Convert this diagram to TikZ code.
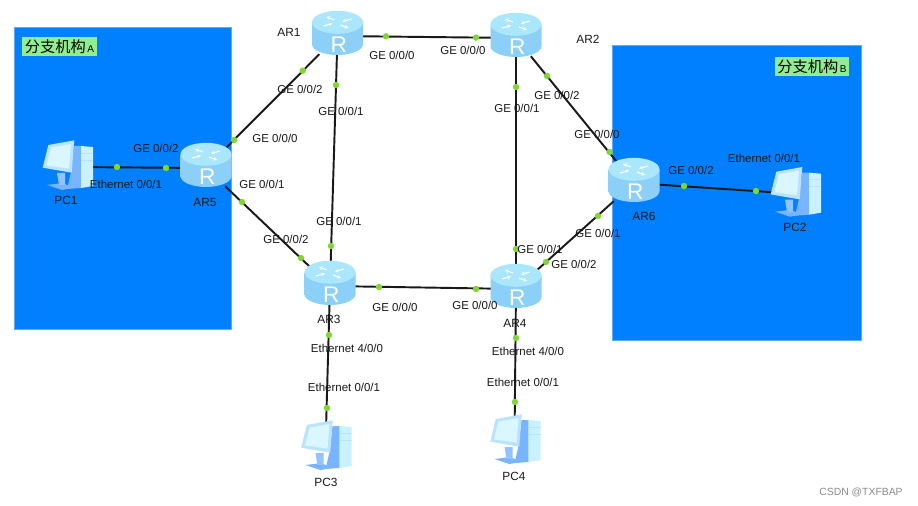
\documentclass[tikz,border=0pt]{standalone}
\usepackage{fontspec}
\setmainfont{Liberation Sans}
\newfontfamily\cjkfont{Noto Sans CJK SC}
\usepackage{xcolor}
\usetikzlibrary{arrows.meta}
\definecolor{branchblue}{RGB}{0,128,255}
\definecolor{branchedge}{RGB}{90,170,255}
\definecolor{tagback}{RGB}{144,238,144}
\definecolor{portgreen}{RGB}{130,214,50}
\definecolor{routertop}{RGB}{170,230,252}
\definecolor{routerdark}{RGB}{140,208,248}
\definecolor{routerlight}{RGB}{185,238,255}
\definecolor{pcscreen}{RGB}{218,246,255}
\definecolor{pcframe}{RGB}{185,228,255}
\definecolor{pcside}{RGB}{120,180,255}
\definecolor{pcfront}{RGB}{200,242,255}
\tikzset{
    branchbox/.style={fill=branchblue, draw=branchedge, line width=0.6pt},
    branchtag/.style={fill=tagback, inner sep=0pt, minimum height=14.2pt, text=black, font=\fontsize{11.4}{12}\selectfont\cjkfont},
    routerport/.style={minimum width=40pt*0.75, minimum height=36pt*0.75, inner sep=0pt},
    pcport/.style={minimum width=46pt*0.75, minimum height=44pt*0.75, inner sep=0pt},
    link/.style={draw=black!90, line width=1.45pt},
    portdot/.style={circle, fill=portgreen, minimum size=4.8pt, inner sep=0pt},
    portlabel/.style={inner sep=0pt, text=black!90, font=\fontsize{8.6}{10}\selectfont},
    devlabel/.style={inner sep=0pt, text=black!90, font=\fontsize{8.9}{10}\selectfont},
    routerarrow/.style={draw=white, line width=0.8pt, -{Stealth[length=2.8pt,width=3pt]}},
    pics/routericon/.style={code={
        \path[left color=routerdark, middle color=routerlight, right color=routerdark]
            (-25.5,-13.7) -- (-25.5,8) .. controls (-25.5,15) and (-12,19) .. (0,19)
            .. controls (12,19) and (25.5,15) .. (25.5,8) -- (25.5,-13.7) -- cycle;
        \fill[routertop] (0,-13.7) ellipse [x radius=25.5, y radius=11.5];
        \draw[routerarrow] (-14,-10) -- (-5,-12.5);
        \draw[routerarrow] (14,-17) -- (5,-14.5);
        \draw[routerarrow] (-3,-16) -- (-11,-19);
        \draw[routerarrow] (3,-11) -- (11,-8);
        \node[text=white, inner sep=0pt, font=\fontsize{17}{17}\selectfont] (letter) at (1.3,9) {R};
    }},
    pics/pcicon/.style={code={
        \fill[pcside] (-20,18) -- (-5,23) -- (6,21) -- (-4,16) -- cycle;
        \fill[pcside!80] (-10,6) -- (-8,18) -- (-2,18) -- (-2,6) -- cycle;
        \fill[pcside] (7,-21) -- (14,-21) -- (14,21) -- (0,22) -- (4,5) -- cycle;
        \fill[pcfront] (14,-21) -- (26,-20) -- (26,19) -- (14,21) -- cycle;
        \draw[pcframe, line width=0.6pt] (14,-14) -- (26,-14) (14,-7) -- (26,-7);
        \fill[pcframe] (-18.7,-22) -- (7.3,-26.7) -- (4.7,5.7) -- (-24.3,0.7) -- cycle;
        \fill[pcscreen] (-16,-19.5) -- (4,-23) -- (2,1.5) -- (-20.5,-1.5) -- cycle;
    }},
}
\begin{document}
\begin{tikzpicture}[x=0.75pt, y=-0.75pt]
    \useasboundingbox (0,0) rectangle (918,506);
    \fill[white] (0,0) rectangle (918,506);

    \draw[branchbox] (14,27) rectangle (231,329);
    \draw[branchbox] (612,45) rectangle (861,340);
    \node[branchtag, minimum width=56.2pt] (tagA) at (59.5,46.5) {分支机构{\rmfamily\fontsize{7.5}{8}\selectfont\,A}};
    \node[branchtag, minimum width=55.5pt] (tagB) at (812,66.5) {分支机构{\rmfamily\fontsize{7.5}{8}\selectfont\,B}};

    \node[routerport] (AR1) at (337.5,36) {};
    \node[routerport] (AR2) at (516,38) {};
    \node[routerport] (AR3) at (330,286) {};
    \node[routerport] (AR4) at (516,289) {};
    \node[routerport] (AR5) at (206,168) {};
    \node[routerport] (AR6) at (634,183) {};
    \node[pcport] (PC1) at (67,167) {};
    \node[pcport] (PC2) at (795,193.7) {};
    \node[pcport] (PC3) at (325.5,447) {};
    \node[pcport] (PC4) at (514.5,441) {};

    \draw[link] (AR1) -- (AR2);
    \draw[link] (AR1) -- (AR5);
    \draw[link] (AR1) -- (AR3);
    \draw[link] (AR2) -- (AR4);
    \draw[link] (AR2) -- (AR6);
    \draw[link] (AR5) -- (AR3);
    \draw[link] (AR3) -- (AR4);
    \draw[link] (AR4) -- (AR6);
    \draw[link] (AR5) -- (PC1);
    \draw[link] (AR6) -- (PC2);
    \draw[link] (AR3) -- (PC3);
    \draw[link] (AR4) -- (PC4);

    \node[portdot] (dot1) at (386,36.3) {};
    \node[portdot] (dot2) at (476,37.7) {};
    \node[portdot] (dot3) at (302.7,70.7) {};
    \node[portdot] (dot4) at (234,140) {};
    \node[portdot] (dot5) at (336,85) {};
    \node[portdot] (dot6) at (331,246) {};
    \node[portdot] (dot7) at (516,87) {};
    \node[portdot] (dot8) at (516,249) {};
    \node[portdot] (dot9) at (547,76) {};
    \node[portdot] (dot10) at (609.5,152) {};
    \node[portdot] (dot11) at (242,202) {};
    \node[portdot] (dot12) at (301,258) {};
    \node[portdot] (dot13) at (379,287) {};
    \node[portdot] (dot14) at (476,289) {};
    \node[portdot] (dot15) at (546,262) {};
    \node[portdot] (dot16) at (598,216) {};
    \node[portdot] (dot17) at (117,167) {};
    \node[portdot] (dot18) at (166,168) {};
    \node[portdot] (dot19) at (684,186) {};
    \node[portdot] (dot20) at (756,191) {};
    \node[portdot] (dot21) at (329,335) {};
    \node[portdot] (dot22) at (327,408) {};
    \node[portdot] (dot23) at (516,338) {};
    \node[portdot] (dot24) at (515,402) {};

    \foreach \router in {AR1,AR2,AR3,AR4,AR5,AR6}
        \pic (\router icon) at (\router) {routericon};
    \foreach \pc in {PC1,PC2,PC3,PC4}
        \pic (\pc icon) at (\pc) {pcicon};

    \node[devlabel] (AR1name) at (289,32) {AR1};
    \node[devlabel] (AR2name) at (588,39) {AR2};
    \node[devlabel] (AR3name) at (329,319) {AR3};
    \node[devlabel] (AR4name) at (515,323) {AR4};
    \node[devlabel] (AR5name) at (205,202) {AR5};
    \node[devlabel] (AR6name) at (644,216) {AR6};
    \node[devlabel] (PC1name) at (66,200) {PC1};
    \node[devlabel] (PC2name) at (795,227) {PC2};
    \node[devlabel] (PC3name) at (326,482) {PC3};
    \node[devlabel] (PC4name) at (514,476) {PC4};

    \node[portlabel] (port1) at (392,55) {GE 0/0/0};
    \node[portlabel] (port2) at (463,50) {GE 0/0/0};
    \node[portlabel] (port3) at (300,89) {GE 0/0/2};
    \node[portlabel] (port4) at (275,138) {GE 0/0/0};
    \node[portlabel] (port5) at (341,111) {GE 0/0/1};
    \node[portlabel] (port6) at (339,221) {GE 0/0/1};
    \node[portlabel] (port7) at (517,108) {GE 0/0/1};
    \node[portlabel] (port8) at (540,249) {GE 0/0/1};
    \node[portlabel] (port9) at (557,95) {GE 0/0/2};
    \node[portlabel] (port10) at (597,134) {GE 0/0/0};
    \node[portlabel] (port11) at (262,184.5) {GE 0/0/1};
    \node[portlabel] (port12) at (286,239) {GE 0/0/2};
    \node[portlabel] (port13) at (395,307) {GE 0/0/0};
    \node[portlabel] (port14) at (475,305) {GE 0/0/0};
    \node[portlabel] (port15) at (574,264) {GE 0/0/2};
    \node[portlabel] (port16) at (598,233) {GE 0/0/1};
    \node[portlabel] (port17) at (126,184) {Ethernet 0/0/1};
    \node[portlabel] (port18) at (156,148) {GE 0/0/2};
    \node[portlabel] (port19) at (691,170) {GE 0/0/2};
    \node[portlabel] (port20) at (764,158) {Ethernet 0/0/1};
    \node[portlabel] (port21) at (347,348) {Ethernet 4/0/0};
    \node[portlabel] (port22) at (344,387) {Ethernet 0/0/1};
    \node[portlabel] (port23) at (528,351) {Ethernet 4/0/0};
    \node[portlabel] (port24) at (523,382) {Ethernet 0/0/1};

    \node[inner sep=0pt, text=black!45, font=\fontsize{7.8}{9}\selectfont] (watermark) at (861,492) {CSDN @TXFBAP};
\end{tikzpicture}
\end{document}
